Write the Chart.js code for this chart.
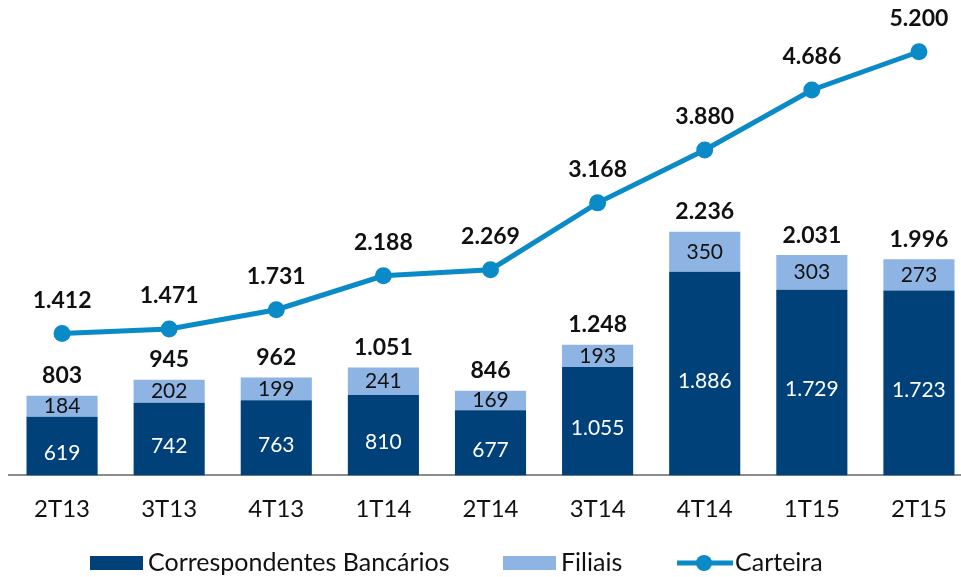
<!DOCTYPE html>
<html>
<head>
<meta charset="utf-8">
<script src="https://cdn.jsdelivr.net/npm/chart.js@4/dist/chart.umd.min.js"></script>
<style>
  html, body { margin: 0; background: #fff; overflow: hidden; }
  #chart { display: block; }
</style>
</head>
<body>
<canvas id="chart" width="981" height="577"></canvas>
<script>
const labels = ['2T13', '3T13', '4T13', '1T14', '2T14', '3T14', '4T14', '1T15', '2T15'];
const correspondentes = [619, 742, 763, 810, 677, 1055, 1886, 1729, 1723];
const filiais = [184, 202, 199, 241, 169, 193, 350, 303, 273];
const totais = [803, 945, 962, 1051, 846, 1248, 2236, 2031, 1996];
const carteira = [1412, 1471, 1731, 2188, 2269, 3168, 3880, 4686, 5200];

const DARK = '#004179';
const LIGHT = '#8eb4e3';
const LINE = '#0a8ac7';
const FONT = 'Lato';

function fmt(v) {
    return String(v).replace(/\B(?=(\d{3})+(?!\d))/g, '.');
}

// value labels drawn on top of the library's own elements
const valueLabels = {
    id: 'valueLabels',
    afterDatasetsDraw(chart) {
        const ctx = chart.ctx;
        ctx.save();
        ctx.textAlign = 'center';
        ctx.textBaseline = 'middle';

        const darkMeta = chart.getDatasetMeta(1);
        const lightMeta = chart.getDatasetMeta(2);
        const lineMeta = chart.getDatasetMeta(0);

        ctx.font = '21px ' + FONT;
        darkMeta.data.forEach((bar, i) => {
            ctx.fillStyle = '#ffffff';
            ctx.fillText(fmt(correspondentes[i]), bar.x, (bar.y + bar.base) / 2 + 1);
        });
        lightMeta.data.forEach((bar, i) => {
            ctx.fillStyle = '#111111';
            ctx.fillText(fmt(filiais[i]), bar.x, (bar.y + bar.base) / 2);
        });

        ctx.font = 'bold 23px ' + FONT;
        ctx.fillStyle = '#111111';
        lightMeta.data.forEach((bar, i) => {
            ctx.fillText(fmt(totais[i]), bar.x, bar.y - 20);
        });
        lineMeta.data.forEach((pt, i) => {
            ctx.fillText(fmt(carteira[i]), pt.x, pt.y - 33);
        });
        ctx.restore();
    }
};

// bottom legend like the original
const bottomLegend = {
    id: 'bottomLegend',
    afterDraw(chart) {
        const ctx = chart.ctx;
        const y = 563;
        ctx.save();
        ctx.font = '25px ' + FONT;
        ctx.textBaseline = 'middle';
        ctx.textAlign = 'left';

        ctx.fillStyle = DARK;
        ctx.fillRect(90, y - 7, 53, 14);
        ctx.fillStyle = '#111111';
        ctx.fillText('Correspondentes Bancários', 148, y);

        ctx.fillStyle = LIGHT;
        ctx.fillRect(503, y - 7, 53, 14);
        ctx.fillStyle = '#111111';
        ctx.fillText('Filiais', 561, y);

        ctx.strokeStyle = LINE;
        ctx.lineWidth = 5;
        ctx.beginPath();
        ctx.moveTo(677, y);
        ctx.lineTo(733, y);
        ctx.stroke();
        ctx.fillStyle = LINE;
        ctx.beginPath();
        ctx.arc(704, y, 8, 0, Math.PI * 2);
        ctx.fill();
        ctx.fillStyle = '#111111';
        ctx.fillText('Carteira', 735, y);
        ctx.restore();
    }
};

new Chart(document.getElementById('chart'), {
    type: 'bar',
    data: {
        labels: labels,
        datasets: [{
            type: 'line',
            label: 'Carteira',
            data: carteira,
            yAxisID: 'y2',
            borderColor: LINE,
            backgroundColor: LINE,
            borderWidth: 5,
            pointRadius: 8.5,
            pointBorderWidth: 0,
            pointBackgroundColor: LINE,
            tension: 0,
            order: 0
        }, {
            label: 'Correspondentes Bancários',
            data: correspondentes,
            backgroundColor: DARK,
            stack: 's',
            barPercentage: 0.664,
            categoryPercentage: 1,
            order: 1
        }, {
            label: 'Filiais',
            data: filiais,
            backgroundColor: LIGHT,
            stack: 's',
            barPercentage: 0.664,
            categoryPercentage: 1,
            order: 2
        }]
    },
    options: {
        responsive: false,
        animation: false,
        layout: {
            padding: { left: 8, right: 0, top: 20, bottom: 41 }
        },
        plugins: {
            legend: { display: false },
            tooltip: { enabled: false }
        },
        scales: {
            x: {
                stacked: true,
                grid: { display: false },
                border: { display: true, color: '#8c8c8c', width: 2 },
                ticks: {
                    color: '#111111',
                    font: { family: FONT, size: 24 },
                    padding: 12,
                    maxRotation: 0,
                    autoSkip: false
                }
            },
            y: {
                stacked: true,
                display: false,
                min: 109,
                max: 4086
            },
            y2: {
                display: false,
                min: -494,
                max: 5627
            }
        }
    },
    plugins: [valueLabels, bottomLegend]
});
</script>
</body>
</html>
